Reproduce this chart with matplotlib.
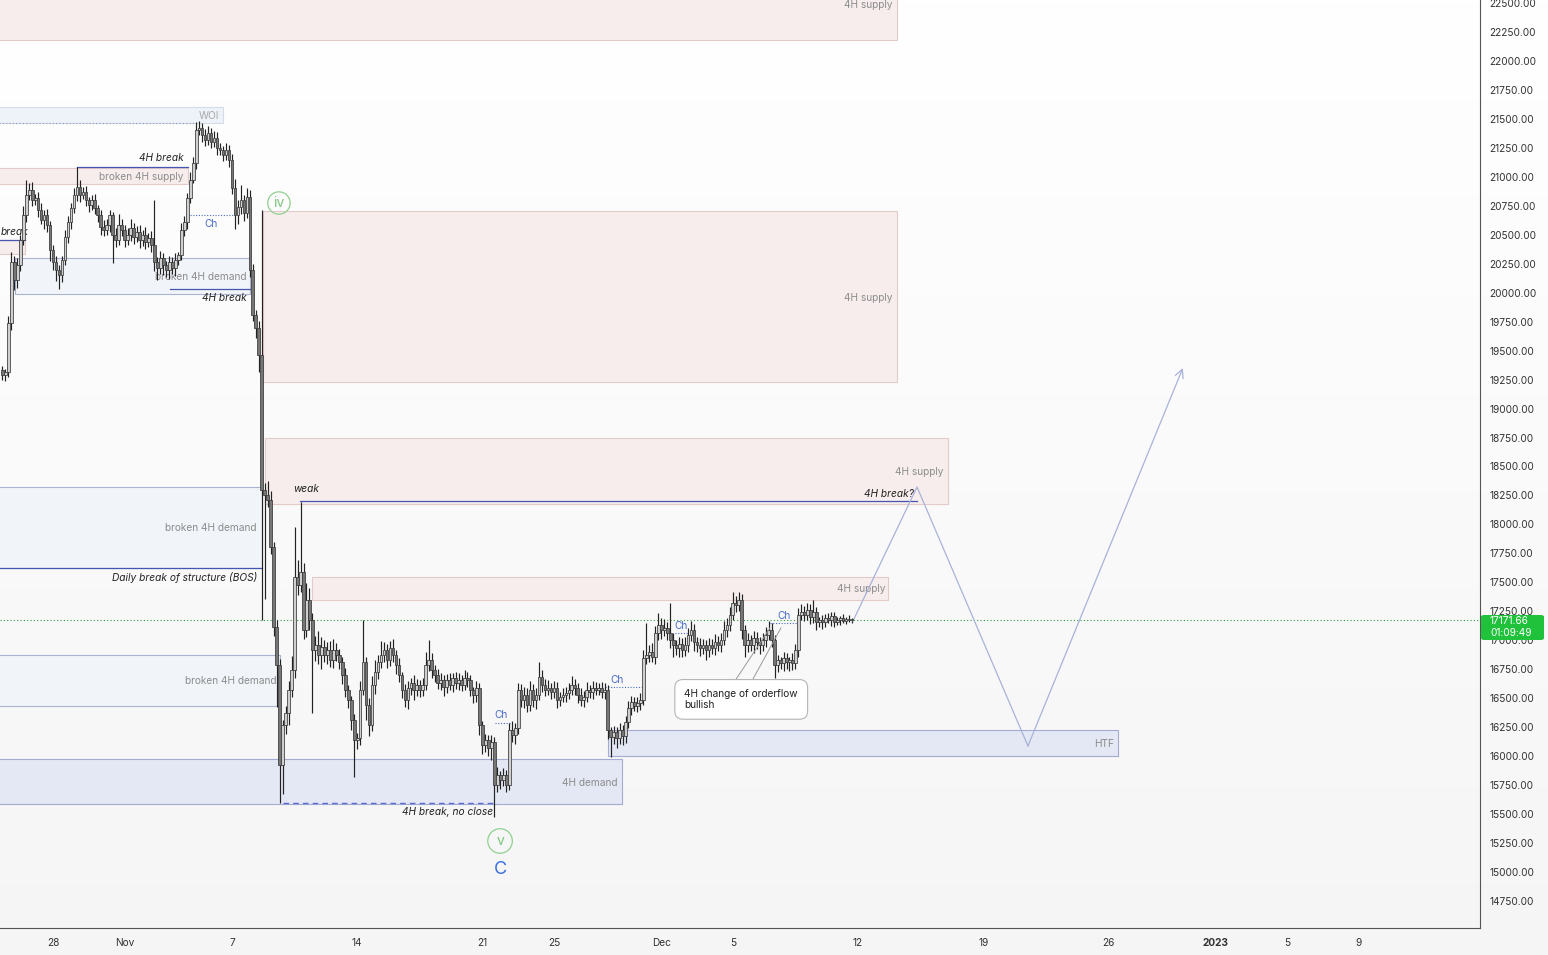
import numpy as np
import matplotlib
matplotlib.use('Agg')
import matplotlib.pyplot as plt
from matplotlib.patches import Rectangle, FancyBboxPatch

plt.rcParams['font.family'] = ['Inter', 'DejaVu Sans']

# ---------------- data (4H candles, BTC/USD) ----------------
open0 = 19330
closes = [
    19290, 19315, 19740, 20265, 20110, 20240, 20455, 20670, 20840, 20885,
    20800, 20815, 20715, 20630, 20670, 20585, 20370, 20265, 20195, 20155,
    20280, 20480, 20610, 20730, 20845, 20912, 20845, 20870, 20800, 20757,
    20800, 20730, 20670, 20567, 20541, 20585, 20670, 20498, 20455, 20585,
    20541, 20455, 20498, 20558, 20480, 20524, 20455, 20498, 20438, 20472,
    20412, 20265, 20213, 20300, 20240, 20196, 20265, 20213, 20282, 20325,
    20541, 20610, 20817, 20973, 21119, 21404, 21421, 21361, 21318, 21378,
    21300, 21335, 21249, 21232, 21188, 21232, 21145, 20904, 20670, 20740,
    20800, 20688, 20826, 20196, 19808, 19695, 19462, 18297, 18254, 18211,
    17805, 17115, 16787, 15924, 16270, 16373, 16571, 16744, 17546, 17480,
    17590, 17089, 17348, 17175, 16917, 16960, 16873, 16942, 16873, 16917,
    16830, 16917, 16873, 16813, 16700, 16571, 16485, 16312, 16140, 16160,
    16571, 16813, 16442, 16270, 16615, 16727, 16813, 16873, 16917, 16830,
    16934, 16873, 16787, 16700, 16571, 16485, 16589, 16632, 16571, 16615,
    16571, 16615, 16787, 16830, 16744, 16700, 16632, 16658, 16597, 16658,
    16615, 16675, 16632, 16658, 16615, 16675, 16658, 16571, 16528, 16589,
    16270, 16097, 16140, 16071, 16123, 15752, 15838, 15795, 15838, 15752,
    16226, 16183, 16243, 16571, 16485, 16528, 16442, 16571, 16485, 16528,
    16684, 16615, 16571, 16589, 16554, 16589, 16485, 16511, 16528, 16545,
    16571, 16615, 16589, 16528, 16485, 16511, 16571, 16554, 16589, 16571,
    16589, 16554, 16571, 16226, 16166, 16209, 16157, 16226, 16174, 16295,
    16416, 16468, 16433, 16459, 16485, 16848, 16873, 16899, 16856, 17063,
    17132, 17089, 17106, 17063, 17003, 16960, 16934, 16968, 16917, 16960,
    17046, 17089, 16985, 16960, 16934, 16960, 16917, 16960, 16934, 16985,
    16960, 17003, 17089, 17132, 17218, 17322, 17305, 17348, 17089, 16960,
    17003, 16960, 17020, 16985, 16960, 17003, 17046, 17089, 17003, 16787,
    16830, 16804, 16848, 16813, 16830, 16804, 16917, 17218, 17244, 17218,
    17262, 17201, 17244, 17158, 17175, 17158, 17193, 17175, 17210, 17158,
    17175, 17193, 17167, 17184, 17175, 17171.66,
]
wick_up = [
    40, 30, 60, 90, 50, 60, 40, 80, 130, 60,
    70, 40, 50, 60, 40, 50, 30, 40, 50, 40,
    40, 60, 50, 40, 60, 173, 60, 40, 50, 30,
    40, 50, 30, 40, 60, 50, 40, 30, 60, 90,
    50, 40, 60, 80, 40, 50, 60, 40, 70, 40,
    60, 390, 40, 60, 40, 30, 50, 40, 60, 30,
    60, 50, 40, 70, 50, 70, 60, 40, 50, 60,
    40, 60, 50, 40, 30, 60, 40, 50, 80, 60,
    130, 40, 80, 60, 50, 40, 60, 1250, 60, 120,
    80, 40, 60, 50, 40, 60, 80, 120, 430, 150,
    600, 80, 150, 100, 60, 80, 120, 90, 60, 70,
    80, 90, 60, 50, 40, 60, 40, 30, 50, 40,
    80, 360, 40, 60, 80, 100, 60, 120, 70, 50,
    60, 80, 40, 60, 30, 50, 60, 40, 70, 50,
    40, 60, 110, 170, 60, 40, 50, 60, 40, 50,
    60, 40, 50, 60, 40, 70, 50, 40, 30, 60,
    40, 30, 50, 40, 60, 40, 70, 30, 60, 40,
    60, 80, 40, 60, 50, 70, 60, 80, 50, 60,
    130, 60, 50, 70, 40, 60, 50, 40, 60, 50,
    60, 80, 50, 40, 60, 50, 70, 40, 60, 50,
    40, 50, 60, 40, 30, 50, 40, 60, 40, 50,
    60, 50, 40, 50, 60, 70, 277, 60, 80, 60,
    100, 60, 80, 50, 260, 60, 40, 60, 50, 70,
    60, 80, 50, 40, 60, 50, 40, 60, 50, 70,
    50, 60, 80, 60, 70, 95, 60, 70, 50, 40,
    60, 40, 60, 50, 40, 60, 70, 80, 60, 40,
    40, 30, 50, 40, 30, 60, 50, 60, 70, 50,
    60, 50, 104, 40, 30, 40, 30, 40, 30, 30,
    30, 20, 30, 20, 30, 20,
]
wick_dn = [
    40, 50, 40, 60, 90, 70, 50, 40, 60, 40,
    50, 40, 60, 40, 80, 60, 100, 70, 90, 120,
    60, 40, 50, 60, 40, 50, 60, 40, 50, 60,
    40, 50, 60, 70, 50, 40, 60, 240, 60, 40,
    50, 60, 40, 50, 60, 40, 70, 50, 60, 40,
    60, 80, 100, 50, 90, 60, 80, 50, 70, 40,
    40, 50, 60, 40, 30, 50, 40, 60, 50, 40,
    50, 40, 60, 40, 50, 40, 60, 50, 120, 80,
    60, 70, 40, 60, 50, 90, 150, 1120, 900, 60,
    60, 80, 360, 330, 250, 80, 100, 60, 70, 90,
    60, 80, 60, 90, 545, 100, 80, 120, 60, 80,
    60, 70, 50, 60, 80, 60, 70, 90, 320, 80,
    60, 40, 130, 100, 50, 80, 60, 50, 60, 70,
    50, 60, 80, 60, 70, 60, 80, 60, 90, 50,
    60, 50, 40, 50, 70, 60, 50, 60, 80, 50,
    40, 60, 50, 60, 50, 40, 60, 50, 70, 60,
    90, 80, 60, 70, 100, 277, 60, 80, 50, 60,
    40, 60, 80, 50, 60, 70, 60, 50, 60, 80,
    40, 60, 50, 40, 60, 50, 70, 50, 40, 60,
    50, 40, 60, 70, 50, 60, 40, 50, 60, 40,
    40, 50, 60, 80, 173, 60, 90, 50, 80, 60,
    50, 60, 40, 50, 60, 40, 50, 60, 40, 60,
    60, 80, 50, 60, 70, 100, 60, 80, 60, 50,
    60, 50, 80, 60, 70, 50, 90, 60, 50, 60,
    50, 60, 40, 60, 50, 40, 60, 50, 80, 100,
    60, 50, 70, 60, 80, 50, 60, 40, 60, 112,
    60, 50, 70, 60, 80, 60, 50, 60, 40, 50,
    40, 60, 50, 70, 40, 60, 40, 30, 50, 40,
    30, 40, 20, 30, 20, 20,
]
first_bar_day = -2.83          # days after 28 Oct 2022 00:00 (25 Oct, 04:00)
bars_per_day = 6               # 4H candles

x_tick_days = [0, 4, 10, 17, 24, 28, 34, 38, 45, 52, 59, 65, 69, 73]
x_tick_labels = ['28', 'Nov', '7', '14', '21', '25', 'Dec', '5', '12', '19', '26', '2023', '5', '9']
y_tick_values = list(range(14750, 22501, 250))
last_price = 17171.66
countdown = '01:09:49'

# projected path (day, price)
proj_days = [44.72, 48.30, 54.50, 63.16]
proj_prices = [17167, 18323, 16088, 19350]

# ---------------- figure ----------------
W, H = 1548, 955
fig = plt.figure(figsize=(W / 100, H / 100), dpi=100)
bg = fig.add_axes([0, 0, 1, 1], zorder=-10)
grad = np.linspace(1.0, 0.962, 256).reshape(-1, 1)
bg.imshow(np.dstack([grad, grad, grad]), aspect='auto', extent=[0, 1, 0, 1], origin='upper')
bg.set_axis_off()

ax = fig.add_axes([0, 27 / H, 1480 / W, 928 / H])
ax.set_facecolor('none')
ax.set_xlim(-2.963, 79.77)
ax.set_ylim(14517, 22526)

PINK_FC = '#f7eded'
PINK_EC = '#e5caca'
BLUE_FC = '#f1f4f9'
BLUE_EC = '#aab3cf'
DEM_FC = '#e4e8f4'
DEM_EC = '#a4acd4'
LBL = '#8c8c8c'
LINEBLUE = '#4655b0'
CHBLUE = '#4a6cc8'


def zone(x0, x1, y0, y1, fc, ec, lw=0.8, z=1):
    ax.add_patch(Rectangle((x0, y0), x1 - x0, y1 - y0, facecolor=fc, edgecolor=ec, lw=lw, zorder=z))


def label(x, y, s, ha='right', color=LBL, italic=False, size=7.3, z=2):
    ax.text(x, y, s, ha=ha, va='center', fontsize=size, color=color,
            style='italic' if italic else 'normal', zorder=z)


# supply zones
zone(-3.5, 47.18, 22181, 22700, PINK_FC, PINK_EC)
label(46.95, 22483, '4H supply')
zone(11.74, 47.18, 19229, 20705, PINK_FC, PINK_EC)
label(46.95, 19954, '4H supply')
zone(11.85, 50.03, 18176, 18746, PINK_FC, PINK_EC)
label(49.80, 18453, '4H supply')
zone(14.48, 46.67, 17348, 17546, PINK_FC, PINK_EC)
label(46.51, 17443, '4H supply')
zone(-3.5, 7.55, 20938, 21076, PINK_FC, PINK_EC)
label(7.32, 20998, 'broken 4H supply')
zone(-3.5, -1.57, 20334, 20455, PINK_FC, PINK_EC)

# WOI
zone(-3.5, 9.50, 21465, 21603, '#eef3f9', '#d5dce8')
ax.plot([-3.5, 7.9], [21465, 21465], color='#8a98c8', lw=0.8, ls=(0, (1, 2)), zorder=2)
label(9.28, 21525, 'WOI', color='#a8a8a8')

# demand zones
zone(-2.12, 11.01, 19989, 20299, BLUE_FC, BLUE_EC)
label(10.84, 20135, 'broken 4H demand')
zone(-3.5, 11.68, 17624, 18323, BLUE_FC, BLUE_EC)
label(11.40, 17969, 'broken 4H demand')
zone(-3.5, 12.69, 16433, 16873, BLUE_FC, BLUE_EC)
label(12.52, 16649, 'broken 4H demand')
zone(-3.5, 31.81, 15588, 15976, DEM_FC, DEM_EC)
label(31.58, 15769, '4H demand')
zone(31.02, 59.53, 16002, 16226, DEM_FC, DEM_EC)
label(59.31, 16105, 'HTF')

# break lines
ax.plot([1.34, 7.55], [21085, 21085], color=LINEBLUE, lw=0.9, zorder=2)
label(7.32, 21162, '4H break', color='#222222', italic=True)
ax.plot([-3.5, -1.57], [20455, 20455], color=LINEBLUE, lw=0.9, zorder=2)
label(-2.95, 20524, 'break', color='#222222', italic=True, ha='left')
ax.plot([6.54, 11.01], [20032, 20032], color=LINEBLUE, lw=0.9, zorder=2)
label(10.84, 19954, '4H break', color='#222222', italic=True)
ax.plot([-3.5, 11.68], [17624, 17624], color=LINEBLUE, lw=0.9, zorder=2)
label(11.40, 17546, 'Daily break of structure (BOS)', color='#222222', italic=True)
ax.plot([13.81, 48.30], [18202, 18202], color=LINEBLUE, lw=0.9, zorder=2)
label(13.42, 18306, 'weak', color='#222222', italic=True, ha='left')
label(48.13, 18263, '4H break?', color='#222222', italic=True)
ax.plot([12.86, 24.82], [15596, 15596], color='#5a6ad0', lw=1.0, ls=(0, (4, 3)), zorder=2)
label(24.60, 15519, '4H break, no close', color='#222222', italic=True)

# change-of-character marks
for (x0, x1, yl, xt, yt) in [(7.66, 10.17, 20671, 8.83, 20593),
                             (24.71, 25.55, 16287, 25.04, 16356),
                             (30.86, 32.98, 16597, 31.53, 16658),
                             (34.77, 35.49, 17063, 35.10, 17124),
                             (40.08, 41.64, 17150, 40.86, 17210)]:
    ax.plot([x0, x1], [yl, yl], color=CHBLUE, lw=0.8, ls=(0, (1, 1.5)), zorder=2)
    label(xt, yt, 'Ch', color=CHBLUE, ha='center')

# ---------------- candles ----------------
n = len(closes)
if not (len(wick_up) == n and len(wick_dn) == n):
    print('length mismatch', n, len(wick_up), len(wick_dn))
opens = [open0] + closes[:-1]
t = first_bar_day + np.arange(n) / bars_per_day
o = np.array(opens, float)
c = np.array(closes, float)
hi = np.maximum(o, c) + np.array(wick_up[:n], float)
lo = np.minimum(o, c) - np.array(wick_dn[:n], float)
up = c >= o
ax.vlines(t, lo, hi, color='#222222', lw=0.85, zorder=3)
body_h = np.maximum(np.abs(c - o), 12)
ax.bar(t, body_h, bottom=np.minimum(o, c), width=0.15,
       color=np.where(up, '#cfcfcf', '#767676'), edgecolor='#3a3a3a', lw=0.55, zorder=4)

# projection
ax.plot(proj_days[:3], proj_prices[:3], color='#a9b2da', lw=0.9, zorder=3)
ax.annotate('', xy=(proj_days[3], proj_prices[3]), xytext=(proj_days[2], proj_prices[2]),
            arrowprops=dict(arrowstyle='->,head_length=0.6,head_width=0.3', color='#a9b2da',
                            lw=0.9, shrinkA=0, shrinkB=0), zorder=3)

# callout
ax.plot([38.12, 40.08], [16649, 17106], color='#9a9a9a', lw=0.7, zorder=4)
ax.plot([39.07, 40.69], [16649, 17106], color='#9a9a9a', lw=0.7, zorder=4)
ax.text(35.3, 16490, '4H change of orderflow\nbullish', ha='left', va='center', fontsize=7.3,
        color='#222222', linespacing=1.05, zorder=6,
        bbox=dict(boxstyle='round,pad=0.95,rounding_size=0.8', fc='white', ec='#b5b5b5', lw=0.8))

# wave labels
ax.text(12.63, 20774, 'iv', ha='center', va='center', fontsize=10, color='#7cc47f', zorder=6,
        bbox=dict(boxstyle='circle,pad=0.3', fc='none', ec='#8fd08f', lw=0.9))
ax.text(24.99, 15268, 'v', ha='center', va='center', fontsize=10, color='#7cc47f', zorder=6,
        bbox=dict(boxstyle='circle,pad=0.38', fc='none', ec='#8fd08f', lw=0.9))
ax.text(24.99, 15018, 'C', ha='center', va='center', fontsize=13, color='#3a6fe0', zorder=6)

# last price line
ax.axhline(last_price, color='#2a9d3a', lw=0.8, ls=(0, (1, 2)), zorder=2)

# axes styling
for s in ['top', 'left']:
    ax.spines[s].set_visible(False)
for s in ['right', 'bottom']:
    ax.spines[s].set_color('#555555')
    ax.spines[s].set_linewidth(0.8)
ax.yaxis.tick_right()
ax.set_yticks(y_tick_values)
ax.set_yticklabels([f'{v:.2f}' for v in y_tick_values])
ax.tick_params(axis='y', length=0, pad=7, labelsize=7.3, colors='#333333')
ax.set_xticks(x_tick_days)
ax.set_xticklabels(x_tick_labels)
ax.tick_params(axis='x', length=0, pad=7, labelsize=7.3, colors='#333333')
for tl in ax.get_xticklabels():
    if tl.get_text() == '2023':
        tl.set_fontweight('bold')

# price label on scale
fig.add_artist(FancyBboxPatch((1481 / W, 1 - 640 / H), 63 / W, 25 / H,
                              boxstyle='round,pad=0,rounding_size=0.002',
                              transform=fig.transFigure, fc='#1fc23a', ec='none', zorder=10))
fig.text(1490 / W, 1 - 621 / H, f'{last_price:.2f}', color='white', fontsize=7.3,
         va='center', ha='left', zorder=11)
fig.text(1490 / W, 1 - 633 / H, countdown, color='white', fontsize=7.3,
         va='center', ha='left', zorder=11)

fig.savefig('out.png', dpi=100)
